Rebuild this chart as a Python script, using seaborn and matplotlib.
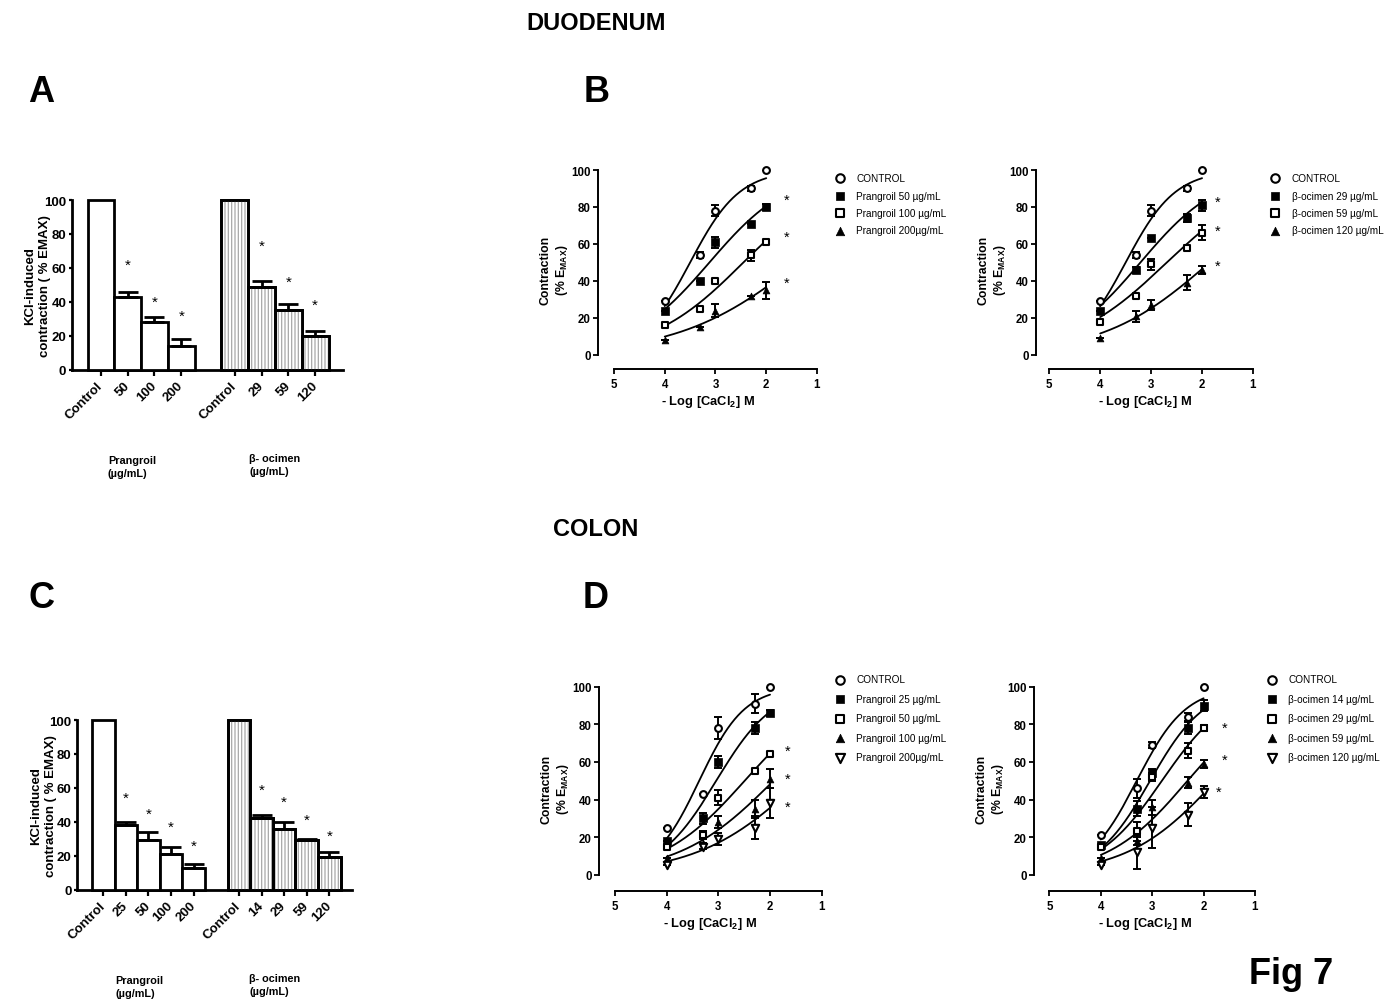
import numpy as np
import pandas as pd
import seaborn as sns
import matplotlib.pyplot as plt

sns.set_style("ticks")
plt.rcParams['font.family'] = ['Liberation Sans', 'DejaVu Sans']
plt.rcParams['mathtext.fontset'] = 'custom'
plt.rcParams['mathtext.rm'] = 'Liberation Sans'
plt.rcParams['mathtext.bf'] = 'Liberation Sans:bold'
plt.rcParams['hatch.linewidth'] = 0.9
for key in ['text.color', 'axes.labelcolor', 'xtick.color', 'ytick.color', 'axes.edgecolor']:
    plt.rcParams[key] = 'black'

W, H = 1386, 1004

# ---- KCl-induced contraction bars (% Emax)
duo_labels = ["Control", "50", "100", "200", "Control", "29", "59", "120"]
duo_pos = [0, 1, 2, 3, 5, 6, 7, 8]
duo_vals = [100, 43, 28, 14, 100, 49, 35, 20]
duo_err = [0, 3, 3, 4, 0, 3, 4, 3]
duo_star = [None, 62, 40, 32, None, 73, 52, 38]
duo_hatch = [False, False, False, False, True, True, True, True]

col_labels = ["Control", "25", "50", "100", "200", "Control", "14", "29", "59", "120"]
col_pos = [0, 1, 2, 3, 4, 6, 7, 8, 9, 10]
col_vals = [100, 38, 29, 21, 13, 100, 42, 36, 29, 19]
col_err = [0, 2, 5, 4, 2, 0, 2, 4, 1, 3]
col_star = [None, 54, 45, 37, 26, None, 59, 52, 41, 32]
col_hatch = [False] * 5 + [True] * 5

# ---- CaCl2 concentration-response (-log M)
log_ca = [4, 3.3, 3, 2.3, 2]

duo_ctrl = [29, 54, 78, 90, 100]
duo_ctrl_err = [0, 1.5, 3, 1.5, 0]
duo_p50 = [24, 40, 61, 71, 80]
duo_p50_err = [0, 0, 3, 0, 1.5]
duo_p100 = [16, 25, 40, 54, 61]
duo_p100_err = [0, 0, 0, 3, 1]
duo_p200 = [8, 15, 24, 32, 35]
duo_p200_err = [0, 0, 3.5, 0, 4.5]

duo_o29 = [24, 46, 63, 74, 81]
duo_o29_err = [0, 1.5, 0, 2, 3]
duo_o59 = [18, 32, 49, 58, 66]
duo_o59_err = [0, 0, 3, 0, 4]
duo_o120 = [9, 21, 27, 39, 46]
duo_o120_err = [0, 3, 2.5, 4, 2]

col_ctrl_p = [25, 43, 78, 91, 100]
col_ctrl_p_err = [0, 0, 6, 5, 0]
col_p25 = [18, 30, 60, 78, 86]
col_p25_err = [0, 3, 3, 3, 1.5]
col_p50 = [15, 21, 41, 55, 64]
col_p50_err = [0, 2, 4, 1, 1]
col_p100 = [9, 17, 28, 35, 51]
col_p100_err = [0, 0, 3, 5, 5]
col_p200 = [5, 15, 19, 25, 38]
col_p200_err = [0, 1.5, 3, 6, 8]

col_ctrl_o = [21, 46, 69, 84, 100]
col_ctrl_o_err = [0, 5, 1.5, 2, 0]
col_o14 = [16, 35, 54, 78, 90]
col_o14_err = [0, 4, 2, 3, 3]
col_o29 = [15, 23, 52, 66, 78]
col_o29_err = [0, 5, 2, 4, 1.5]
col_o59 = [9, 18, 36, 49, 59]
col_o59_err = [0, 2, 4, 3, 2]
col_o120 = [5, 12, 25, 32, 44]
col_o120_err = [0, 9, 11, 6, 3]

marker_styles = {
    "circle": dict(marker="o", facecolor="white", linewidth=1.5, s=24),
    "sq_fill": dict(marker="s", facecolor="black", linewidth=0.5, s=26),
    "sq_open": dict(marker="s", facecolor="white", linewidth=1.5, s=24),
    "tri": dict(marker="^", facecolor="black", linewidth=0.5, s=24),
    "tri_down": dict(marker="v", facecolor="white", linewidth=1.5, s=28),
}


def px_rect(l, t, r, b):
    return [l / W, 1 - b / H, (r - l) / W, (b - t) / H]


def fit_hill(x, y):
    # log(agonist) vs response, bottom 0 / top 100, least squares on a grid
    x = np.asarray(x, float)
    y = np.asarray(y, float)
    pec = np.linspace(0.5, 5.0, 451)
    hill = np.linspace(0.2, 2.5, 231)
    P, S = np.meshgrid(pec, hill, indexing="ij")
    pred = 100.0 / (1.0 + 10.0 ** ((x - P[..., None]) * S[..., None]))
    sse = ((pred - y) ** 2).sum(axis=-1)
    i, j = np.unravel_index(np.argmin(sse), sse.shape)
    return pec[i], hill[j]


def bar_panel(fig, rect, pos, vals, errs, labels, stars, hatched, xlim):
    ax = fig.add_axes(px_rect(*rect))
    df = pd.DataFrame({"pos": pos, "val": vals})
    sns.barplot(data=df, x="pos", y="val", native_scale=True, width=1,
                color="white", saturation=1, edgecolor="black", linewidth=2,
                errorbar=None, ax=ax, zorder=3)
    hx = [p for p, h in zip(pos, hatched) if h]
    hv = [v for v, h in zip(vals, hatched) if h]
    ax.bar(hx, hv, width=1, fill=False, hatch="|||||", edgecolor="#a8a8a8",
           linewidth=0, zorder=3.5)
    ax.bar(hx, hv, width=1, fill=False, edgecolor="black", linewidth=2, zorder=4)
    for p in ax.patches:
        p.set_clip_on(False)
    ex = [p for p, e in zip(pos, errs) if e > 0]
    ev = [v for v, e in zip(vals, errs) if e > 0]
    ee = [e for e in errs if e > 0]
    ax.errorbar(ex, ev, yerr=[np.zeros(len(ee)), ee], fmt="none", ecolor="black",
                elinewidth=2, capsize=7, capthick=2, zorder=5)
    for p, s in zip(pos, stars):
        if s is not None:
            ax.text(p, s, "*", ha="center", va="center", fontsize=11)
    ax.set_xlim(*xlim)
    ax.set_ylim(0, 100)
    ax.set_yticks(range(0, 101, 20))
    ax.set_xticks(pos)
    ax.set_xticklabels(labels, rotation=45, ha="right", va="center",
                       rotation_mode="anchor", fontweight="bold", fontsize=9.5)
    for t in ax.get_yticklabels():
        t.set_fontweight("bold")
    ax.tick_params(axis="both", width=1.6, labelsize=9.5)
    ax.tick_params(axis="y", length=2.5, pad=1.5)
    ax.tick_params(axis="x", length=4, pad=6)
    sns.despine(ax=ax)
    for sp in ["left", "bottom"]:
        ax.spines[sp].set_linewidth(2)
    ax.set_xlabel("")
    ax.set_ylabel("KCl-induced\ncontraction ( % EMAX)", fontsize=9.5,
                  fontweight="bold", labelpad=-5, linespacing=1.3)
    return ax


def curve_panel(fig, rect, xlim_left, ybottom, series, star_x, star_y, leg_xy, leg_space):
    ax = fig.add_axes(px_rect(*rect))
    handles, labels = [], []
    xs = np.linspace(2, 4, 150)
    for lab, vals, errs, style in series:
        pe, h = fit_hill(log_ca, vals)
        ys = 100.0 / (1.0 + 10.0 ** ((xs - pe) * h))
        sns.lineplot(x=xs, y=ys, color="black", linewidth=1.3, ax=ax, zorder=2)
        ax.errorbar(log_ca, vals, yerr=errs, fmt="none", ecolor="black",
                    elinewidth=1.4, capsize=3, capthick=1.4, zorder=3)
        st = marker_styles[style]
        sns.scatterplot(x=log_ca, y=vals, marker=st["marker"], s=st["s"],
                        facecolor=st["facecolor"], edgecolor="black",
                        linewidth=st["linewidth"], ax=ax, zorder=4, clip_on=False)
        handles.append(ax.collections[-1])
        labels.append(lab)
    for x, y in zip(star_x, star_y):
        ax.text(x, y, "*", ha="center", va="center", fontsize=10.5)
    ax.set_xlim(xlim_left, 1)
    ax.set_ylim(ybottom, 100)
    ax.set_xticks([5, 4, 3, 2, 1])
    ax.set_yticks(range(0, 101, 20))
    sns.despine(ax=ax)
    ax.spines["left"].set_bounds(0, 100)
    ax.spines["bottom"].set_bounds(1, 5)
    for sp in ["left", "bottom"]:
        ax.spines[sp].set_linewidth(1.4)
    ax.tick_params(axis="both", width=1.3, length=3.6, labelsize=8.3, pad=1.5)
    ax.tick_params(axis="x", pad=3)
    for t in ax.get_xticklabels() + ax.get_yticklabels():
        t.set_fontweight("bold")
    ax.set_xlabel(r"- Log [CaCl$_{\mathbf{2}}$] M", fontsize=9.3, fontweight="bold",
                  labelpad=2)
    ax.set_ylabel("Contraction\n(% E$_{\\mathbf{MAX}}$)", fontsize=8.8,
                  fontweight="bold", labelpad=1)
    ax.legend(handles, labels, loc="upper left",
              bbox_to_anchor=(leg_xy[0] / W, 1 - leg_xy[1] / H),
              bbox_transform=fig.transFigure, frameon=False, fontsize=7.2,
              handlelength=1.0, handletextpad=1.15, labelspacing=leg_space,
              borderpad=0, borderaxespad=0, scatterpoints=1, markerscale=1.25)
    return ax


fig = plt.figure(figsize=(W / 100, H / 100), dpi=100)

bar_panel(fig, (71.7, 201, 343.3, 370.7), duo_pos, duo_vals, duo_err, duo_labels,
          duo_star, duo_hatch, (-1.09, 9.05))
bar_panel(fig, (77.3, 721, 351.7, 890.7), col_pos, col_vals, col_err, col_labels,
          col_star, col_hatch, (-1.15, 10.99))

curve_panel(fig, (598, 171, 817, 370), 5.315, -7.6,
            [("CONTROL", duo_ctrl, duo_ctrl_err, "circle"),
             ("Prangroil 50 \u00b5g/mL", duo_p50, duo_p50_err, "sq_fill"),
             ("Prangroil 100 \u00b5g/mL", duo_p100, duo_p100_err, "sq_open"),
             ("Prangroil 200\u00b5g/mL", duo_p200, duo_p200_err, "tri")],
            [1.59, 1.59, 1.59], [84, 64, 39], (835, 174), 0.75)

curve_panel(fig, (1036, 171, 1253, 370), 5.26, -7.6,
            [("CONTROL", duo_ctrl, duo_ctrl_err, "circle"),
             ("\u03b2-ocimen 29 \u00b5g/mL", duo_o29, duo_o29_err, "sq_fill"),
             ("\u03b2-ocimen 59 \u00b5g/mL", duo_o59, duo_o59_err, "sq_open"),
             ("\u03b2-ocimen 120 \u00b5g/mL", duo_o120, duo_o120_err, "tri")],
            [1.69, 1.69, 1.69], [83, 67, 48], (1270, 174), 0.75)

curve_panel(fig, (599, 687.7, 821.7, 891.7), 5.31, -8.5,
            [("CONTROL", col_ctrl_p, col_ctrl_p_err, "circle"),
             ("Prangroil 25 \u00b5g/mL", col_p25, col_p25_err, "sq_fill"),
             ("Prangroil 50 \u00b5g/mL", col_p50, col_p50_err, "sq_open"),
             ("Prangroil 100 \u00b5g/mL", col_p100, col_p100_err, "tri"),
             ("Prangroil 200\u00b5g/mL", col_p200, col_p200_err, "tri_down")],
            [1.65, 1.65, 1.65], [66, 51, 36], (835, 675.5), 0.95)

curve_panel(fig, (1034, 687.7, 1255, 891.7), 5.30, -8.5,
            [("CONTROL", col_ctrl_o, col_ctrl_o_err, "circle"),
             ("\u03b2-ocimen 14 \u00b5g/mL", col_o14, col_o14_err, "sq_fill"),
             ("\u03b2-ocimen 29 \u00b5g/mL", col_o29, col_o29_err, "sq_open"),
             ("\u03b2-ocimen 59 \u00b5g/mL", col_o59, col_o59_err, "tri"),
             ("\u03b2-ocimen 120 \u00b5g/mL", col_o120, col_o120_err, "tri_down")],
            [1.60, 1.60, 1.70], [78, 61, 44], (1267, 675.5), 0.95)

# group labels under the bar charts
fig.text(108 / W, 1 - 456 / H, "Prangroil\n(\u00b5g/mL)", ha="left", va="top",
         fontsize=7.8, fontweight="bold", linespacing=1.4)
fig.text(249 / W, 1 - 454 / H, "\u03b2- ocimen\n(\u00b5g/mL)", ha="left", va="top",
         fontsize=7.8, fontweight="bold", linespacing=1.4)
fig.text(115 / W, 1 - 976 / H, "Prangroil\n(\u00b5g/mL)", ha="left", va="top",
         fontsize=7.8, fontweight="bold", linespacing=1.4)
fig.text(249 / W, 1 - 974 / H, "\u03b2- ocimen\n(\u00b5g/mL)", ha="left", va="top",
         fontsize=7.8, fontweight="bold", linespacing=1.4)

# titles and panel letters
fig.text(596 / W, 1 - 23 / H, "DUODENUM", ha="center", va="center",
         fontsize=17, fontweight="bold")
fig.text(596 / W, 1 - 529 / H, "COLON", ha="center", va="center",
         fontsize=17, fontweight="bold")
for letter, x, y in [("A", 41, 92), ("B", 597, 92), ("C", 41, 598), ("D", 596, 598)]:
    fig.text(x / W, 1 - y / H, letter, ha="center", va="center",
             fontsize=26, fontweight="bold")
fig.text(1291 / W, 1 - 975 / H, "Fig 7", ha="center", va="center",
         fontsize=26, fontweight="bold")

fig.savefig("out.png", dpi=100, facecolor="white")
